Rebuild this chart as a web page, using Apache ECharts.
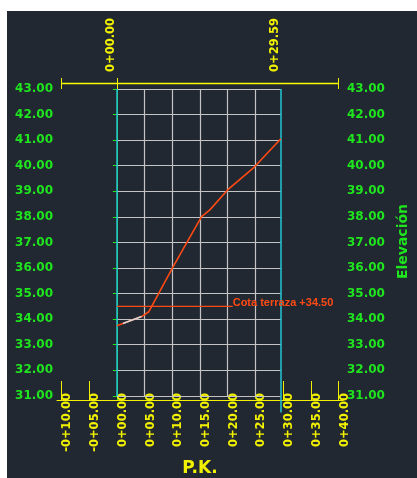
<!DOCTYPE html>
<html><head><meta charset="utf-8">
<script src="https://cdn.jsdelivr.net/npm/echarts@6/dist/echarts.min.js"></script>
<style>
html,body{margin:0;padding:0;background:#fff;width:417px;height:478px;overflow:hidden}
#bg{position:absolute;left:7px;top:11px;width:410px;height:467px;background:#222831}
#chart{position:absolute;left:0;top:0;width:417px;height:478px}
</style></head><body><div id="bg"></div><div id="chart"></div>
<script>
// ---- data ----
const elevationTicks = [31, 32, 33, 34, 35, 36, 37, 38, 39, 40, 41, 42, 43];
const stationTicks = [-10, -5, 0, 5, 10, 15, 20, 25, 30, 35, 40];
const stationTickLabels = ['-0+10.00', '-0+05.00', '0+00.00', '0+05.00', '0+10.00', '0+15.00', '0+20.00', '0+25.00', '0+30.00', '0+35.00', '0+40.00'];
const outerTickStations = [-10, -5, 30, 35, 40];
const topStations = [0, 29.59];
const topStationLabels = ['0+00.00', '0+29.59'];
const topTickStations = [-10, 0, 40];
const gridStations = [5, 10, 15, 20, 25];
const profileStart = 0;
const profileEnd = 29.59;
const profileStations = [0, 4.46, 5.77, 10.16, 15.28, 16.78, 19.97, 24.59, 29.59];
const profileElevations = [33.74, 34.10, 34.29, 36.05, 38.01, 38.27, 39.05, 39.90, 41.05];
const terrainStations = [1.1, 4.46];
const terrainElevations = [33.83, 34.10];
const terraceStations = [0, 20.9];
const terraceElevation = 34.5;
const terraceLabel = 'Cota terraza +34.50';
const xMin = -10.8, xMax = 40.8, yMin = 30.84, yMax = 43.23;
const topLineStations = [-10, 40];
const topLineElevation = 43.21;
const rightEdgeLow = 30.35;

// ---- styles ----
const GREEN = '#1fe51f', YELLOW = '#f2f200', CYAN = '#22c4d4', GRIDC = '#c4c4c4', ORANGE = '#ff4a14';
const FONT = 'DejaVu Sans';

function stLabel(v, vals, labs) {
  const i = vals.findIndex(s => Math.abs(s - v) < 1e-6);
  return i >= 0 ? labs[i] : '';
}

const gridLines = [];
elevationTicks.forEach(e => gridLines.push({ coords: [[profileStart, e], [profileEnd, e]] }));
gridStations.forEach(s => gridLines.push({ coords: [[s, elevationTicks[0]], [s, elevationTicks[elevationTicks.length - 1]]] }));

const edgeLines = [
  { coords: [[profileStart, elevationTicks[0]], [profileStart, elevationTicks[elevationTicks.length - 1]]] },
  { coords: [[profileEnd, rightEdgeLow], [profileEnd, elevationTicks[elevationTicks.length - 1]]] }
];

const chart = echarts.init(document.getElementById('chart'), null, { renderer: 'canvas' });
const yLabel = { customValues: elevationTicks, formatter: v => v.toFixed(2), color: GREEN, fontFamily: FONT, fontWeight: 'bold', fontSize: 12, margin: 4 };
chart.setOption({
  animation: false,
  grid: { left: 57, right: 74, top: 83, bottom: 78, containLabel: false, outerBoundsMode: 'none' },
  xAxis: [{
    type: 'value', min: xMin, max: xMax, position: 'bottom',
    splitLine: { show: false },
    axisLine: { show: true, lineStyle: { color: YELLOW, width: 1 } },
    axisTick: { show: true, inside: true, length: 19, customValues: outerTickStations, lineStyle: { color: YELLOW } },
    axisLabel: { customValues: stationTicks, formatter: v => stLabel(v, stationTicks, stationTickLabels), rotate: 90, verticalAlign: 'top', margin: -7, color: YELLOW, fontFamily: FONT, fontWeight: 'bold', fontSize: 11.5 },
    name: 'P.K.', nameLocation: 'middle', nameGap: 60,
    nameTextStyle: { color: YELLOW, fontFamily: FONT, fontWeight: 'bold', fontSize: 17 }
  }, {
    type: 'value', min: xMin, max: xMax, position: 'top', offset: -6,
    splitLine: { show: false },
    axisLine: { show: false },
    axisTick: { show: true, length: 11, customValues: topTickStations, lineStyle: { color: YELLOW } },
    axisLabel: { customValues: topStations, formatter: v => stLabel(v, topStations, topStationLabels), rotate: -90, verticalAlign: 'bottom', margin: 17, color: YELLOW, fontFamily: FONT, fontWeight: 'bold', fontSize: 11.5 }
  }],
  yAxis: [{
    type: 'value', min: yMin, max: yMax, position: 'left',
    splitLine: { show: false },
    axisLine: { show: true, lineStyle: { color: GREEN, width: 1 } },
    axisTick: { show: true, length: 4, customValues: elevationTicks, lineStyle: { color: GREEN } },
    axisLabel: yLabel
  }, {
    type: 'value', min: yMin, max: yMax, position: 'right',
    splitLine: { show: false },
    axisLine: { show: true, lineStyle: { color: GREEN, width: 1 } },
    axisTick: { show: true, length: 4, customValues: elevationTicks, lineStyle: { color: GREEN } },
    axisLabel: yLabel,
    name: 'Elevación', nameLocation: 'middle', nameGap: 53, nameRotate: 90,
    nameTextStyle: { color: GREEN, fontFamily: FONT, fontWeight: 'bold', fontSize: 14 }
  }],
  series: [
    { type: 'lines', coordinateSystem: 'cartesian2d', xAxisIndex: 0, yAxisIndex: 0, data: gridLines, silent: true, z: 1,
      lineStyle: { color: GRIDC, width: 1.2, opacity: 1 } },
    { type: 'lines', coordinateSystem: 'cartesian2d', xAxisIndex: 0, yAxisIndex: 0, data: edgeLines, silent: true, z: 2, clip: false,
      lineStyle: { color: CYAN, width: 1.5, opacity: 1 } },
    { type: 'line', xAxisIndex: 0, yAxisIndex: 0, data: topLineStations.map(s => [s, topLineElevation]), symbol: 'none', z: 6, clip: false, silent: true,
      lineStyle: { color: '#ffff00', width: 1.6 } },
    { type: 'line', xAxisIndex: 0, yAxisIndex: 0, data: terraceStations.map(s => [s, terraceElevation]), symbol: 'none', z: 3,
      lineStyle: { color: ORANGE, width: 1.3 },
      endLabel: { show: true, formatter: terraceLabel, color: ORANGE, fontFamily: 'Liberation Sans', fontWeight: 'bold', fontSize: 11, distance: 0, offset: [0, -3] } },
    { type: 'line', xAxisIndex: 0, yAxisIndex: 0, data: profileStations.map((s, i) => [s, profileElevations[i]]), symbol: 'none', z: 4,
      lineStyle: { color: ORANGE, width: 1.6 } },
    { type: 'line', xAxisIndex: 0, yAxisIndex: 0, data: terrainStations.map((s, i) => [s, terrainElevations[i]]), symbol: 'none', z: 5,
      lineStyle: { color: '#d8d8d8', width: 1.6 } }
  ]
});
</script></body></html>
